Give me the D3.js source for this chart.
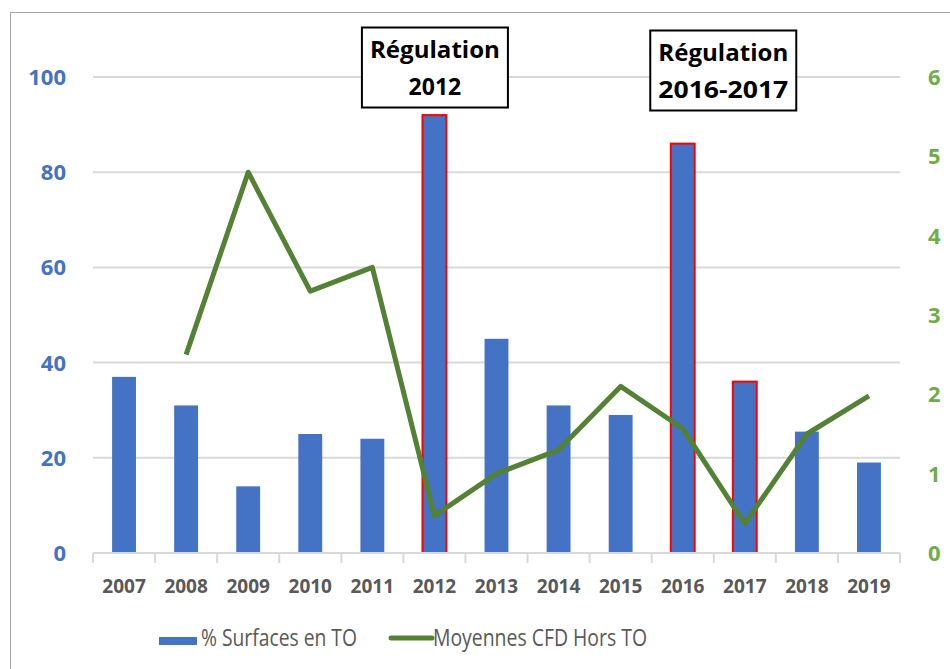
<!DOCTYPE html>
<html>
<head>
<meta charset="utf-8">
<script src="https://cdn.jsdelivr.net/npm/d3@7"></script>
<style>
  body { margin: 0; background: #fff; }
  svg { display: block; font-family: "Open Sans", sans-serif; }
</style>
</head>
<body>
<div id="chart"></div>
<script>
// data
var years = ["2007","2008","2009","2010","2011","2012","2013","2014","2015","2016","2017","2018","2019"];
var surfaces = [37, 31, 14, 25, 24, 92, 45, 31, 29, 86, 36, 25.5, 19];
var cfd = [null, 2.5, 4.8, 3.3, 3.6, 0.47, 1.0, 1.3, 2.1, 1.57, 0.37, 1.5, 1.98];
var regulationYears = ["2012", "2016", "2017"];
var leftTicks = [0, 20, 40, 60, 80, 100];
var rightTicks = [0, 1, 2, 3, 4, 5, 6];
var notes = [
  { lines: ["Régulation", "2012"], from: "2012", to: "2012" },
  { lines: ["Régulation", "2016-2017"], from: "2016", to: "2017" }
];

var width = 950, height = 669;
var plotLeft = 93, plotRight = 900, plotTop = 77, plotBottom = 553;

var svg = d3.select("#chart").append("svg")
  .attr("width", width)
  .attr("height", height);

// outer chart border (cut at right and bottom)
svg.append("rect")
  .attr("x", 10.5).attr("y", 12.5)
  .attr("width", 1000).attr("height", 1000)
  .attr("fill", "#fff")
  .attr("stroke", "#a6a6a6");

var x = d3.scaleBand().domain(years).range([plotLeft, plotRight]).paddingInner(0).paddingOuter(0);
var y = d3.scaleLinear().domain([0, 100]).range([plotBottom, plotTop]);
var y2 = d3.scaleLinear().domain([0, 6]).range([plotBottom, plotTop]);
var barW = x.bandwidth() / 2.6;

// gridlines
svg.append("g").selectAll("line")
  .data(leftTicks.slice(1))
  .enter().append("line")
  .attr("x1", plotLeft).attr("x2", plotRight)
  .attr("y1", d => y(d)).attr("y2", d => y(d))
  .attr("stroke", "#d9d9d9")
  .attr("stroke-width", 2);

// bars
svg.append("g").selectAll("rect")
  .data(years)
  .enter().append("rect")
  .attr("x", (d) => x(d) + (x.bandwidth() - barW) / 2)
  .attr("width", barW)
  .attr("y", (d, i) => y(surfaces[i]))
  .attr("height", (d, i) => plotBottom - y(surfaces[i]))
  .attr("fill", "#4472c4")
  .attr("stroke", d => regulationYears.includes(d) ? "#ff0000" : "none")
  .attr("stroke-width", 2);

// x axis
var xAxis = svg.append("g")
  .attr("transform", "translate(0," + plotBottom + ")");
xAxis.append("line")
  .attr("x1", plotLeft).attr("x2", plotRight)
  .attr("stroke", "#d9d9d9").attr("stroke-width", 2);
xAxis.selectAll(".tk")
  .data(d3.range(years.length + 1))
  .enter().append("line")
  .attr("x1", i => plotLeft + i * x.step()).attr("x2", i => plotLeft + i * x.step())
  .attr("y1", 0).attr("y2", 10)
  .attr("stroke", "#d9d9d9").attr("stroke-width", 2);
xAxis.selectAll("text")
  .data(years)
  .enter().append("text")
  .attr("x", d => x(d) + x.bandwidth() / 2)
  .attr("y", 40)
  .attr("text-anchor", "middle")
  .attr("font-size", 19)
  .attr("font-weight", "bold")
  .attr("fill", "#595959")
  .text(d => d);

// left axis labels
svg.append("g").selectAll("text")
  .data(leftTicks)
  .enter().append("text")
  .attr("x", 66)
  .attr("y", d => y(d))
  .attr("dy", "0.36em")
  .attr("text-anchor", "end")
  .attr("font-size", 22)
  .attr("font-weight", "bold")
  .attr("fill", "#4472c4")
  .text(d => d);

// right axis labels
svg.append("g").selectAll("text")
  .data(rightTicks)
  .enter().append("text")
  .attr("x", 928)
  .attr("y", d => y2(d))
  .attr("dy", "0.36em")
  .attr("font-size", 22)
  .attr("font-weight", "bold")
  .attr("fill", "#70ad47")
  .text(d => d);

// line
var line = d3.line()
  .defined(d => d != null)
  .x((d, i) => x(years[i]) + x.bandwidth() / 2)
  .y(d => y2(d));

svg.append("path")
  .datum(cfd)
  .attr("fill", "none")
  .attr("stroke", "#548235")
  .attr("stroke-width", 5)
  .attr("stroke-linejoin", "round")
  .attr("d", line);

// annotation boxes
var boxW = 146, boxH = 80;
var note = svg.append("g").selectAll("g")
  .data(notes)
  .enter().append("g")
  .attr("transform", (d, i) => {
    var cx = (x(d.from) + x(d.to) + x.bandwidth()) / 2 + (i == 1 ? 9 : 0);
    return "translate(" + (cx - boxW / 2) + "," + (27 + i * 3) + ")";
  });
note.append("rect")
  .attr("x", 0.5).attr("y", 0.5)
  .attr("width", boxW).attr("height", boxH)
  .attr("fill", "#fff")
  .attr("stroke", "#000")
  .attr("stroke-width", 2);
note.each(function(d) {
  var g = d3.select(this);
  d.lines.forEach((t, j) => {
    g.append("text")
      .attr("x", boxW / 2 + 0.5)
      .attr("y", 31 + j * 37)
      .attr("text-anchor", "middle")
      .attr("font-size", 23)
      .attr("font-weight", "bold")
      .attr("fill", "#000")
      .attr("textLength", t.length > 5 ? 130 : null)
      .attr("lengthAdjust", "spacingAndGlyphs")
      .text(t);
  });
});

// legend
var legend = svg.append("g");
legend.append("rect")
  .attr("x", 159).attr("y", 637)
  .attr("width", 38).attr("height", 8)
  .attr("fill", "#4472c4");
legend.append("text")
  .attr("x", 201).attr("y", 646)
  .attr("font-size", 24)
  .attr("fill", "#595959")
  .attr("textLength", 156)
  .attr("lengthAdjust", "spacingAndGlyphs")
  .text("% Surfaces en TO");
legend.append("line")
  .attr("x1", 391).attr("x2", 432)
  .attr("y1", 638).attr("y2", 638)
  .attr("stroke", "#548235")
  .attr("stroke-width", 5)
  .attr("stroke-linecap", "round");
legend.append("text")
  .attr("x", 433).attr("y", 646)
  .attr("font-size", 24)
  .attr("fill", "#595959")
  .attr("textLength", 214)
  .attr("lengthAdjust", "spacingAndGlyphs")
  .text("Moyennes CFD Hors TO");
</script>
</body>
</html>
